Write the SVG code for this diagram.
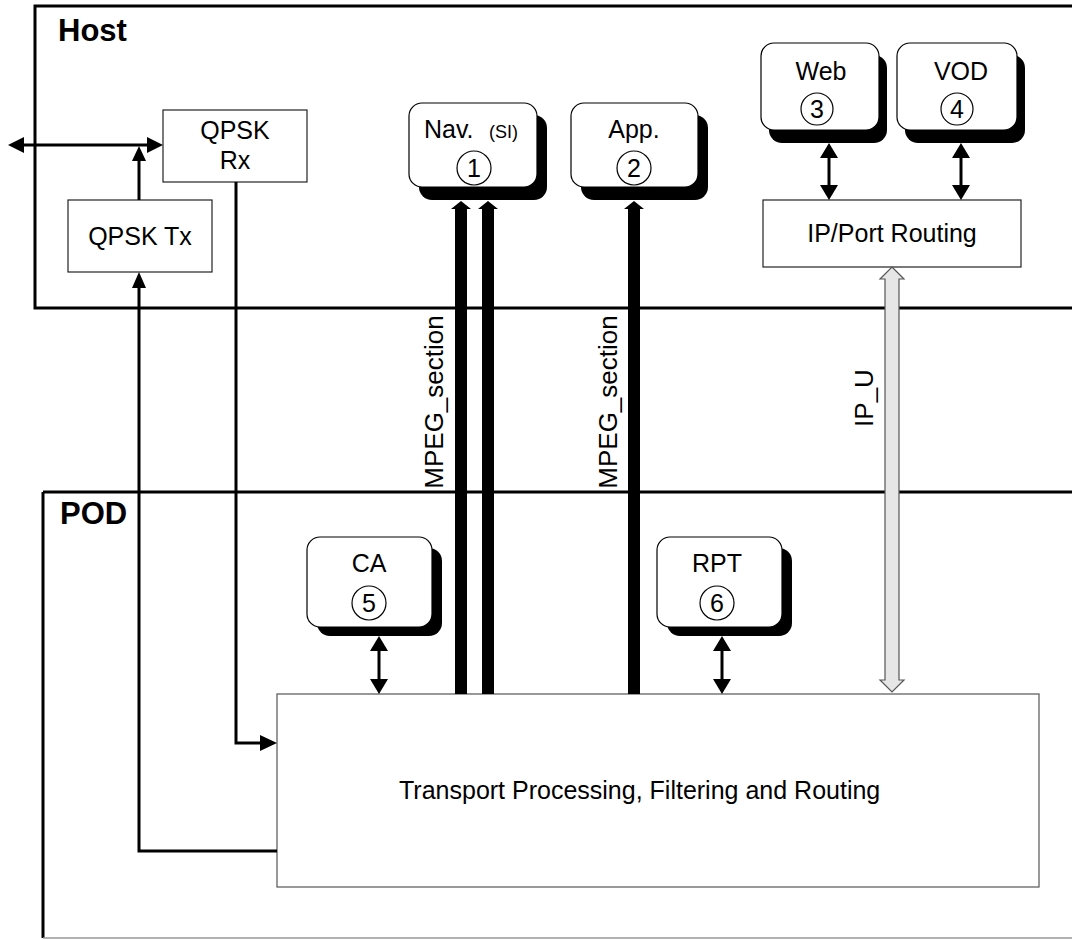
<svg xmlns="http://www.w3.org/2000/svg" width="1072" height="940" viewBox="0 0 1072 940">
<defs>
<style>
text{font-family:"Liberation Sans",Arial,sans-serif;fill:#000}
.t{font-size:25px;text-anchor:middle}
.b{font-size:31px;font-weight:bold}
.box{fill:#fff;stroke:#222;stroke-width:1.2}
.rbox{fill:#fff;stroke:#000;stroke-width:1.2}
.shadow{fill:#000}
.ln{fill:none;stroke:#000;stroke-width:3}
.circ{fill:#fff;stroke:#000;stroke-width:1.2}
.thick{fill:#000}
.rot{font-size:26px;text-anchor:middle}
</style>
</defs>
<rect width="1072" height="940" fill="#fff"/>

<g id="host">
<rect x="35" y="6" width="1100" height="302" fill="none" stroke="#000" stroke-width="3"/>
<text class="b" x="58" y="41">Host</text>
</g>

<g id="pod">
<line x1="43" y1="492" x2="1072" y2="492" stroke="#000" stroke-width="3"/>
<line x1="43" y1="492" x2="43" y2="938" stroke="#000" stroke-width="3"/>
<line x1="43" y1="938" x2="1072" y2="938" stroke="#999" stroke-width="1.5"/>
<text class="b" x="60" y="524">POD</text>
</g>

<g id="qpsk-rx">
<rect class="box" x="163" y="110" width="144" height="72"/>
<text class="t" x="235" y="139">QPSK</text>
<text class="t" x="235" y="169">Rx</text>
</g>

<g id="qpsk-tx">
<rect class="box" x="68" y="200" width="144" height="72"/>
<text class="t" x="140" y="245">QPSK Tx</text>
</g>

<g id="nav">
<rect class="shadow" x="419" y="115" width="128" height="85" rx="13"/>
<rect class="rbox" x="409" y="103" width="128" height="84" rx="13"/>
<text x="424" y="138" style="font-size:25px">Nav.</text>
<text x="489" y="138" style="font-size:18px">(SI)</text>
<circle class="circ" cx="474" cy="168" r="17"/>
<text class="t" x="474" y="177">1</text>
</g>

<g id="app">
<rect class="shadow" x="581" y="115" width="127" height="85" rx="13"/>
<rect class="rbox" x="571" y="103" width="127" height="84" rx="13"/>
<text class="t" x="634" y="138">App.</text>
<circle class="circ" cx="634" cy="168" r="17"/>
<text class="t" x="634" y="177">2</text>
</g>

<g id="web">
<rect class="shadow" x="769" y="55" width="118" height="88" rx="13"/>
<rect class="rbox" x="761" y="43" width="118" height="87" rx="13"/>
<text class="t" x="821" y="80">Web</text>
<circle class="circ" cx="817" cy="109" r="16"/>
<text class="t" x="817" y="118">3</text>
</g>

<g id="vod">
<rect class="shadow" x="905" y="55" width="120" height="88" rx="13"/>
<rect class="rbox" x="897" y="43" width="120" height="87" rx="13"/>
<text class="t" x="961" y="80">VOD</text>
<circle class="circ" cx="957" cy="109" r="16"/>
<text class="t" x="957" y="118">4</text>
</g>

<g id="ip-port-routing">
<rect class="box" x="763" y="200" width="258" height="67"/>
<text class="t" x="892" y="242">IP/Port Routing</text>
</g>

<g id="ca">
<rect class="shadow" x="317" y="548" width="125" height="88" rx="13"/>
<rect class="rbox" x="307" y="537" width="125" height="90" rx="13"/>
<text class="t" x="369" y="572">CA</text>
<circle class="circ" cx="369" cy="603" r="17"/>
<text class="t" x="369" y="612">5</text>
</g>

<g id="rpt">
<rect class="shadow" x="667" y="548" width="125" height="88" rx="13"/>
<rect class="rbox" x="657" y="537" width="125" height="90" rx="13"/>
<text class="t" x="717" y="572">RPT</text>
<circle class="circ" cx="717" cy="603" r="17"/>
<text class="t" x="717" y="612">6</text>
</g>

<g id="transport">
<rect x="277" y="694" width="762" height="193" fill="#fff" stroke="#555" stroke-width="1.2"/>
<text x="399" y="799" style="font-size:25px">Transport Processing, Filtering and Routing</text>
</g>

<g id="connectors">
<line class="ln" x1="14" y1="145" x2="148" y2="145" stroke-width="2.5"/>
<polygon points="8,145 24,137 24,153" fill="#000"/>
<polygon points="163,145 147,137 147,153" fill="#000"/>
<line class="ln" x1="139" y1="200" x2="139" y2="160" stroke-width="2.5"/>
<polygon points="139,146 132,161 146,161" fill="#000"/>
<polyline class="ln" points="236,182 236,743 262,743" stroke-width="2.5"/>
<polygon points="277,743 260,735 260,751" fill="#000"/>
<polyline class="ln" points="277,851 139,851 139,288" stroke-width="2.5"/>
<polygon points="139,272 132,288 146,288" fill="#000"/>

<rect class="thick" x="455" y="208" width="12" height="486"/>
<polygon class="thick" points="451,209 471,209 461,201"/>
<rect class="thick" x="482" y="208" width="12" height="486"/>
<polygon class="thick" points="478,209 498,209 488,201"/>
<rect class="thick" x="628" y="208" width="12" height="486"/>
<polygon class="thick" points="624,209 644,209 634,201"/>

<line class="ln" x1="829" y1="155" x2="829" y2="188"/>
<polygon points="829,143 820,158 838,158" fill="#000"/>
<polygon points="829,200 820,185 838,185" fill="#000"/>
<line class="ln" x1="961" y1="155" x2="961" y2="188"/>
<polygon points="961,143 952,158 970,158" fill="#000"/>
<polygon points="961,200 952,185 970,185" fill="#000"/>

<line class="ln" x1="379" y1="648" x2="379" y2="682"/>
<polygon points="379,636 370,651 388,651" fill="#000"/>
<polygon points="379,694 370,679 388,679" fill="#000"/>
<line class="ln" x1="722" y1="648" x2="722" y2="682"/>
<polygon points="722,636 713,651 731,651" fill="#000"/>
<polygon points="722,694 713,679 731,679" fill="#000"/>

<polygon points="892,267 904,279 899,279 899,680 904,680 892,692 880,680 885,680 885,279 880,279" fill="#e6e6e6" stroke="#555" stroke-width="1.2"/>

<text class="rot" transform="translate(443,402) rotate(-90)">MPEG_section</text>
<text class="rot" transform="translate(617,402) rotate(-90)">MPEG_section</text>
<text class="rot" transform="translate(873,398) rotate(-90)">IP_U</text>
</g>
</svg>
